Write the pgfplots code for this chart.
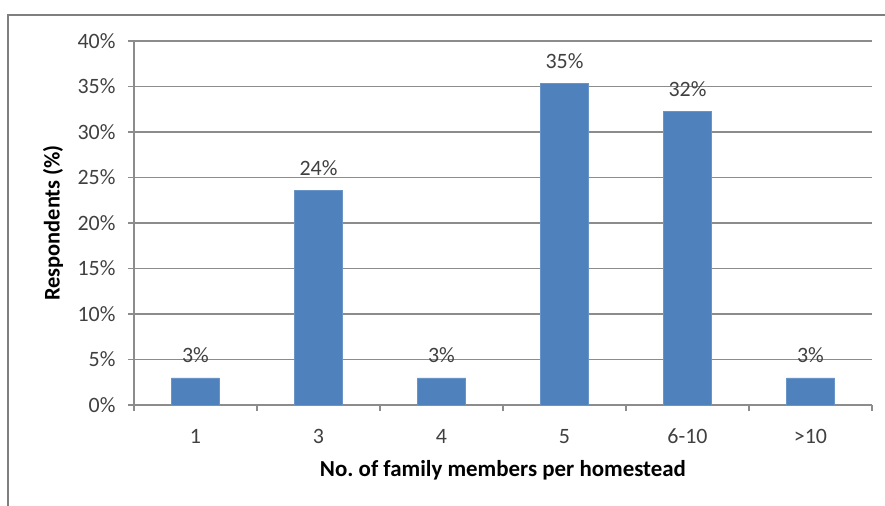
\documentclass[border=0pt]{standalone}
\usepackage{pgfplots}
\pgfplotsset{compat=1.18}
\usepackage{fontspec}
\setmainfont{Carlito}
\definecolor{barblue}{HTML}{4F81BD}
\definecolor{gridgray}{HTML}{8C8C8C}
\definecolor{txtgray}{HTML}{404040}
\definecolor{framegray}{HTML}{7F7F7F}
\begin{document}
\begin{tikzpicture}
\useasboundingbox (-134bp,-101bp) rectangle (751bp,405bp);
\draw[framegray, line width=1.2bp] (-126bp,-102bp) -- (-126bp,390bp) -- (752bp,390bp);
\begin{axis}[
  at={(0,0)}, anchor=south west,
  scale only axis,
  width=738bp, height=364bp,
  xmin=-0.5, xmax=5.5,
  ymin=0, ymax=40,
  axis lines*=left,
  axis line style={gridgray, line width=1.2bp},
  /pgf/number format/assume math mode=true,
  ytick={0,5,...,40},
  yticklabels={0\%,5\%,10\%,15\%,20\%,25\%,30\%,35\%,40\%},
  xtick={0,...,5},
  xticklabels={1,3,4,5,6-10,>10},
  minor xtick={-0.5,0.5,...,5.5},
  tick align=outside,
  major x tick style={draw=none},
  minor x tick style={gridgray, line width=1.2bp},
  minor tick length=6bp,
  major tick length=6bp,
  y tick style={gridgray, line width=1.2bp},
  ymajorgrids,
  grid style={gridgray, line width=1.2bp},
  tick label style={font=\fontsize{22}{26}\selectfont, text=txtgray},
  yticklabel style={xshift=-9bp},
  xticklabel style={anchor=base, yshift=-32bp},
  every axis x label/.style={at={(axis description cs:0.5,0)}, anchor=center, yshift=-65bp, font=\bfseries\fontsize{23}{26}\selectfont},
  every axis y label/.style={at={(axis description cs:-0.1098,0.5)}, anchor=center, rotate=90, font=\bfseries\fontsize{22.5}{26}\selectfont},
  xlabel={No.\ of family members per homestead},
  ylabel={Respondents (\%)},
  nodes near coords={\pgfmathprintnumber[fixed,precision=0]{\pgfplotspointmeta}\%},
  every node near coord/.append style={anchor=base, inner sep=0pt, yshift=15bp, font=\fontsize{22}{26}\selectfont, text=txtgray},
  clip=false,
]
\addplot[ybar, bar width=48bp, fill=barblue, draw=barblue!85!white] coordinates {
  (0,2.97) (1,23.6) (2,2.97) (3,35.35) (4,32.3) (5,2.97)
};
\end{axis}
\end{tikzpicture}
\end{document}
